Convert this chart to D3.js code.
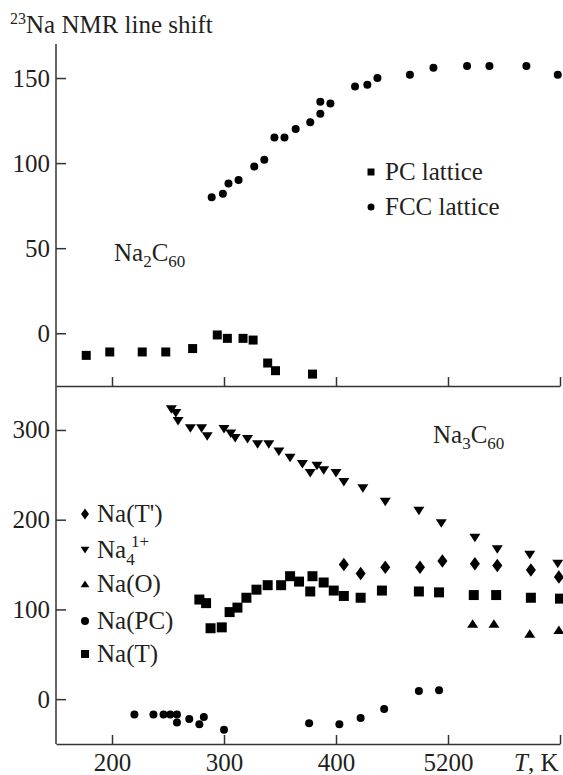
<!DOCTYPE html>
<html>
<head>
<meta charset="utf-8">
<script src="https://d3js.org/d3.v7.min.js"></script>
<style>
  body { margin: 0; background: #fff; }
  svg { display: block; font-family: "Liberation Serif", "Times New Roman", serif; }
  text { fill: #231f20; }
</style>
</head>
<body>
<svg id="chart" width="563" height="775"></svg>
<script>
// ---- data ----
var tempTicks = [200, 300, 400, 500, 600];
var tempLabels = ["200", "300", "400", "5200", "T, K"];
var topTicks = [0, 50, 100, 150];
var bottomTicks = [0, 100, 200, 300];

// Na2C60
var fccT     = [289, 299, 304, 313, 327, 336, 345, 354, 364, 377, 386, 386, 395, 417, 428, 437, 466, 487, 517, 537, 570, 598];
var fccShift = [80, 82, 88, 90, 98, 102, 115, 115, 120, 124, 129, 136, 135, 145, 146, 150, 152, 156, 157, 157, 157, 152];
var pcT      = [177, 198, 227, 248, 272, 294, 303, 317, 326, 339, 346, 379];
var pcShift  = [-13, -11, -11, -11, -9, -1, -3, -3, -4, -17.5, -22, -24];

// Na3C60
var na4T      = [253, 257, 259, 270, 280, 285, 300, 306, 310, 321, 330, 340, 349, 359, 370, 377, 383, 389, 400, 407, 424, 444, 474, 494, 524, 544, 573, 598];
var na4Shift  = [323, 319, 310, 302, 302, 293, 301, 296, 291, 290, 284, 284, 276, 269, 262, 252, 260, 255, 252, 242, 235, 220, 210, 196, 180, 167, 161, 151];
var naTpT     = [407, 422, 444, 475, 495, 524, 544, 574, 599];
var naTpShift = [150, 140, 147, 147, 154, 151, 149, 144, 136];
var naOT      = [522, 541, 573, 599];
var naOShift  = [84, 84, 73, 77];
var naPCT     = [220, 237, 246, 252, 258, 258, 269, 278, 282, 300, 376, 403, 422, 443, 474, 492];
var naPCShift = [-17, -17, -17, -17, -17, -26, -22, -28, -20, -34, -27, -28, -21, -11, 9, 10];
var naTT      = [278, 284, 288, 298, 305, 312, 320, 329, 339, 351, 359, 367, 377, 379, 389, 398, 407, 422, 441, 474, 492, 523, 543, 574, 600];
var naTShift  = [111, 107, 79, 80, 97, 102, 113, 122, 127, 127, 137, 131, 120, 137, 130, 121, 115, 113, 121, 120, 119, 116, 116, 113, 112];

var svg = d3.select("#chart");
var ink = "#231f20";
var axisInk = "#333";

var x = d3.scaleLinear().domain([150, 600]).range([56, 560]);
var yTop = d3.scaleLinear().domain([-31, 170]).range([386, 44]);
var yBot = d3.scaleLinear().domain([-50, 349]).range([744, 386]);

// marker shapes, centred on 0,0
function shape(kind, s) {
  var h = s / 2;
  if (kind == "square") return "M" + (-h) + "," + (-h) + "h" + s + "v" + s + "h" + (-s) + "Z";
  if (kind == "circle") return "M" + h + ",0A" + h + "," + h + " 0 1,1 " + (-h) + ",0A" + h + "," + h + " 0 1,1 " + h + ",0Z";
  if (kind == "down") return "M" + (-h * 1.1) + "," + (-h * 0.8) + "L" + (h * 1.1) + "," + (-h * 0.8) + "L0," + (h * 0.9) + "Z";
  if (kind == "up") return "M" + (-h * 1.1) + "," + (h * 0.8) + "L" + (h * 1.1) + "," + (h * 0.8) + "L0," + (-h * 0.9) + "Z";
  if (kind == "diamond") return "M0," + (-h * 1.35) + "L" + h + ",0L0," + (h * 1.35) + "L" + (-h) + ",0Z";
}

function plotSeries(ts, vs, yScale, kind, size) {
  svg.append("g").selectAll("path")
    .data(d3.zip(ts, vs))
    .enter().append("path")
    .attr("d", shape(kind, size))
    .attr("transform", function(d) { return "translate(" + x(d[0]) + "," + yScale(d[1]) + ")"; })
    .style("fill", "#000");
}

// ---- axes ----
function styleAxis(g) {
  g.attr("font-family", null);
  g.selectAll("path, line").attr("stroke", axisInk).attr("stroke-width", 1.5);
  g.selectAll("text").attr("fill", ink).style("font-size", "25px");
}

// left axis, one line through both panels
svg.append("line").attr("x1", 56).attr("x2", 56).attr("y1", 44).attr("y2", 744)
  .attr("stroke", axisInk).attr("stroke-width", 1.5);

var gTopY = svg.append("g").attr("transform", "translate(56,0)")
  .call(d3.axisLeft(yTop).tickValues(topTicks).tickSizeInner(-10).tickSizeOuter(0).tickPadding(6));
gTopY.select(".domain").remove();
styleAxis(gTopY);

var gBotY = svg.append("g").attr("transform", "translate(56,0)")
  .call(d3.axisLeft(yBot).tickValues(bottomTicks).tickSizeInner(-10).tickSizeOuter(0).tickPadding(6));
gBotY.select(".domain").remove();
styleAxis(gBotY);

// divider axis (top panel's x axis, no labels)
var gMid = svg.append("g").attr("transform", "translate(0,386)")
  .call(d3.axisBottom(x).tickValues(tempTicks).tickSizeInner(-9).tickSizeOuter(0).tickFormat(""));
styleAxis(gMid);

// bottom axis
var gBot = svg.append("g").attr("transform", "translate(0,744)")
  .call(d3.axisBottom(x).tickValues(tempTicks).tickSizeInner(-9).tickSizeOuter(0).tickPadding(9)
    .tickFormat(function(d, i) { return tempLabels[i]; }));
styleAxis(gBot);
var lastLabel = gBot.selectAll(".tick text").filter(function(d, i, n) { return i == n.length - 1; });
lastLabel.text(null).attr("text-anchor", "end").attr("x", -2);
lastLabel.append("tspan").style("font-style", "italic").text("T");
lastLabel.append("tspan").text(", K");

// ---- marks ----
plotSeries(fccT, fccShift, yTop, "circle", 8);
plotSeries(pcT, pcShift, yTop, "square", 9);

plotSeries(na4T, na4Shift, yBot, "down", 10);
plotSeries(naTpT, naTpShift, yBot, "diamond", 10);
plotSeries(naOT, naOShift, yBot, "up", 10);
plotSeries(naPCT, naPCShift, yBot, "circle", 8);
plotSeries(naTT, naTShift, yBot, "square", 10);

// ---- texts ----
function label(px, py, parts) {
  var t = svg.append("text").attr("x", px).attr("y", py).style("font-size", "25px");
  parts.forEach(function(p) {
    var s = t.append("tspan").text(p.t);
    if (p.size) s.style("font-size", p.size + "px");
    if (p.dy) s.attr("dy", p.dy);
    if (p.dx) s.attr("dx", p.dx);
  });
  return t;
}

label(10, 33, [{t: "23", size: 16, dy: -9}, {t: "Na NMR line shift", dy: 9}]);
label(114, 261, [{t: "Na"}, {t: "2", size: 17, dy: 6}, {t: "C", dy: -6}, {t: "60", size: 17, dy: 6}]);
label(433, 443, [{t: "Na"}, {t: "3", size: 17, dy: 6}, {t: "C", dy: -6}, {t: "60", size: 17, dy: 6}]);

// top legend
var topLegend = [["square", "PC lattice", 172], ["circle", "FCC lattice", 207]];
topLegend.forEach(function(d) {
  svg.append("path").attr("d", shape(d[0], 7)).attr("transform", "translate(371," + d[2] + ")").style("fill", "#000");
  label(385, d[2] + 8, [{t: d[1]}]);
});

// bottom legend
var botLegend = [
  ["diamond", 514, [{t: "Na(T')"}]],
  ["down", 550, [{t: "Na"}, {t: "4", size: 17, dy: 7}]],
  ["up", 584, [{t: "Na(O)"}]],
  ["circle", 621, [{t: "Na(PC)"}]],
  ["square", 654, [{t: "Na(T)"}]]
];
botLegend.forEach(function(d) {
  svg.append("path").attr("d", shape(d[0], 8)).attr("transform", "translate(85," + d[1] + ")").style("fill", "#000");
  label(97, d[1] + 8, d[2]);
});
// superscript charge of Na4, stacked over the subscript
svg.append("text").attr("x", 131).attr("y", 547).style("font-size", "17px").text("1+");
</script>
</body>
</html>
